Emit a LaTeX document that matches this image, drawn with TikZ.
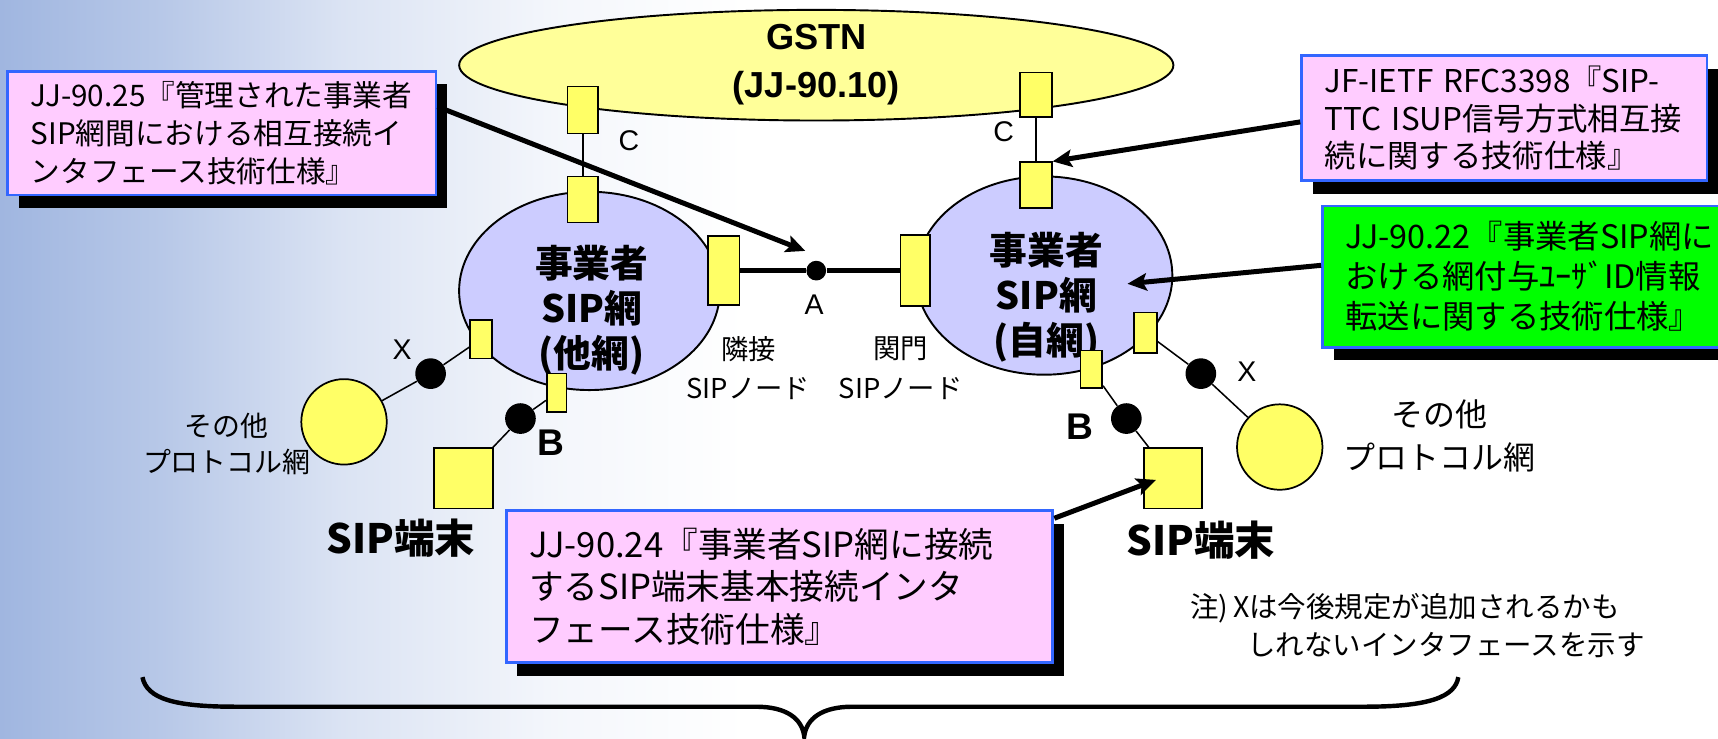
\documentclass[tikz,border=0pt]{standalone}
\usepackage{fontspec}
\setmainfont{Liberation Sans}
\newfontfamily\jp{Noto Sans CJK JP}
\usetikzlibrary{arrows.meta,shadows,shapes.geometric}
\newcommand\setfs[2]{\fontsize{#1}{#2}\selectfont}
\definecolor{cpink}{HTML}{FFCCFF}
\definecolor{cblue}{HTML}{3366FF}
\definecolor{cgreen}{HTML}{00FF00}
\definecolor{cyel}{HTML}{FFFF66}
\definecolor{cgstn}{HTML}{FFFF99}
\definecolor{clav}{HTML}{CCCCFF}
\definecolor{bgblue}{RGB}{160,182,224}
\pgfdeclarehorizontalshading{bgfade}{100bp}{color(0bp)=(bgblue); color(25bp)=(bgblue);
  color(36bp)=(bgblue!75); color(48bp)=(bgblue!38); color(62bp)=(bgblue!12); color(75bp)=(white); color(100bp)=(white)}
\begin{document}
\begin{tikzpicture}[x=0.02cm,y=-0.02cm,
  callout/.style={draw=cblue, line width=1.5pt, fill=cpink, inner xsep=0.42cm, inner ysep=0pt, align=left,
    font=\jp\setfs{15.4}{19.6},
    drop shadow={fill=black, opacity=1, shadow xshift=5.7pt, shadow yshift=-6.8pt}},
  ybox/.style={draw, fill=cyel, inner sep=0pt, line width=0.8pt},
  blackdot/.style={circle, fill=black, inner sep=0pt, minimum size=0.56cm},
  pnet/.style={circle, draw, fill=cyel, line width=0.9pt, inner sep=0pt, minimum size=1.56cm},
  sipnet/.style={ellipse, draw, fill=clav, line width=1pt, inner sep=0pt},
  thinlink/.style={line width=0.8pt},
  trunk/.style={line width=2.6pt},
  callarrow/.style={line width=2.6pt, -{Stealth[length=10pt,width=9pt,inset=2pt]}},
  lbl/.style={font=\setfs{14.8}{18}, inner sep=0pt},
  blbl/.style={font=\bfseries\setfs{19.3}{23}, inner sep=0pt},
  jlbl/.style={font=\jp\setfs{14.2}{20.5}, align=center, inner sep=0pt},
  netlbl/.style={font=\jp\bfseries\setfs{19.6}{23.3}, align=center, inner sep=0pt},
  termlbl/.style={font=\jp\bfseries\setfs{21}{24}, inner sep=0pt},
]
\useasboundingbox (0,0) rectangle (1568,674);
% background
\fill[white] (0,0) rectangle (1568,674);
\shade[shading=bgfade] (0,0) rectangle (680,674);

% GSTN
\node[sipnet, fill=cgstn, minimum width=13.04cm, minimum height=2.02cm] (gstn) at (745,59.5) {};
\node[font=\bfseries\setfs{18.8}{25}, align=center, inner sep=0pt] (gstnT) at (745,59) {GSTN\\(JJ-90.10)};

% carrier SIP networks
\node[sipnet, minimum width=4.76cm, minimum height=3.62cm] (netL) at (538,265.5) {};
\node[sipnet, minimum width=4.68cm, minimum height=3.62cm] (netR) at (953,251.5) {};
\node[netlbl] (netLT) at (540,283) {事業者\\SIP網\\(他網)};
\node[netlbl] (netRT) at (955,271) {事業者\\SIP網\\(自網)};

% interface boxes
\node[ybox, minimum width=0.56cm, minimum height=0.86cm] (gL1) at (532,100.5) {};
\node[ybox, minimum width=0.56cm, minimum height=0.84cm] (gL2) at (532,182) {};
\node[ybox, minimum width=0.58cm, minimum height=0.82cm] (gR1) at (945.5,86.5) {};
\node[ybox, minimum width=0.58cm, minimum height=0.84cm] (gR2) at (945.5,169) {};
\node[ybox, minimum width=0.58cm, minimum height=1.26cm] (adjL) at (660.5,247) {};
\node[ybox, minimum width=0.54cm, minimum height=1.30cm] (gwR) at (835.5,247) {};
\node[ybox, minimum width=0.40cm, minimum height=0.70cm] (xL) at (439,309.5) {};
\node[ybox, minimum width=0.36cm, minimum height=0.70cm] (bL) at (508,358.5) {};
\node[ybox, minimum width=0.42cm, minimum height=0.74cm] (xR) at (1045.5,303.5) {};
\node[ybox, minimum width=0.40cm, minimum height=0.68cm] (bR) at (996,337) {};
\node[ybox, minimum width=1.08cm, minimum height=1.10cm] (termL) at (423,436.5) {};
\node[ybox, minimum width=1.06cm, minimum height=1.10cm] (termR) at (1070.5,436.5) {};

% other protocol networks
\node[pnet] (circL) at (314,385) {};
\node[pnet] (circR) at (1168,408) {};

% dots
\node[blackdot, minimum size=0.36cm] (dotA) at (745,247) {};
\node[blackdot] (dotXL) at (393,341) {};
\node[blackdot] (dotBL) at (475,382) {};
\node[blackdot] (dotXR) at (1096,341) {};
\node[blackdot] (dotBR) at (1028,382) {};

% links
\draw[thinlink] (gL1) -- (gL2);
\draw[thinlink] (gR1) -- (gR2);
\draw[trunk] (adjL) -- (dotA) -- (gwR);
\draw[thinlink] (circL) -- (dotXL) -- (xL);
\draw[thinlink] (termL) -- (dotBL) -- (bL);
\draw[thinlink] (xR) -- (dotXR) -- (circR);
\draw[thinlink] (bR) -- (dotBR) -- (termR);

% labels
\node[lbl] (cLlbl) at (574,128) {C};
\node[lbl] (cRlbl) at (916,120) {C};
\node[lbl] (aLbl) at (743,278) {A};
\node[lbl] (xLlbl) at (367,319) {X};
\node[lbl] (xRlbl) at (1138,339) {X};
\node[blbl] (bLlbl) at (503,404) {B};
\node[blbl] (bRlbl) at (986,389) {B};
\node[jlbl] (adjT) at (683,336) {隣接\\SIPノード};
\node[jlbl] (gwT) at (822,336) {関門\\SIPノード};
\node[jlbl, font=\jp\setfs{14.5}{18.8}] (othL) at (207,405) {その他\\プロトコル網};
\node[jlbl, font=\jp\setfs{16.6}{22.2}] (othR) at (1314,398) {その他\\プロトコル網};
\node[termlbl] (tLlbl) at (366,491) {SIP端末};
\node[termlbl] (tRlbl) at (1096,493) {SIP端末};
\node[font=\jp\setfs{14.8}{20}, align=left, anchor=west, inner sep=0pt] (note) at (1086,571)
  {注)\,Xは今後規定が追加されるかも\\\hspace{1.04cm}しれないインタフェースを示す};

% callouts
\node[callout, text width=6.98cm, minimum height=2.26cm] (boxL) at (202.5,121.5)
  {\mbox{JJ-90.25『管理された事業者}\\\mbox{SIP網間における相互接続イ}\\\mbox{ンタフェース技術仕様』}};
\node[callout, text width=6.56cm, minimum height=2.28cm, font=\jp\setfs{16.3}{19.6}] (boxJF) at (1373,108)
  {\mbox{JF-IETF RFC3398『SIP-}\\\mbox{TTC ISUP信号方式相互接}\\\mbox{続に関する技術仕様』}};
\node[callout, fill=cgreen, text width=7.0cm, minimum height=2.58cm, font=\jp\setfs{16.8}{20.8}] (boxG) at (1403,252.5)
  {\mbox{JJ-90.22『事業者SIP網に}\\\mbox{おける網付与ﾕｰｻﾞID情報}\\\mbox{転送に関する技術仕様』}};
\node[callout, text width=9.14cm, minimum height=2.78cm, font=\jp\setfs{18}{22.2}] (boxJJ) at (711.5,535.5)
  {\mbox{JJ-90.24『事業者SIP網に接続}\\\mbox{するSIP端末基本接続インタ}\\\mbox{フェース技術仕様』}};

% callout arrows
\coordinate (tipA) at (735,229);
\coordinate (tipG) at (1029,259);
\coordinate (tipJJ) at (1055,438);
\draw[callarrow] (boxL.7) -- (tipA);
\draw[callarrow] (boxJF.181) -- (gR2.north east);
\draw[callarrow] (boxG.177) -- (tipG);
\draw[callarrow] (boxJJ.14) -- (tipJJ);

% brace
\draw[line width=2.3pt] (130,618) .. controls (134,638) and (160,645) .. (215,645)
  -- (690,645) .. controls (718,645) and (732,656) .. (734,672)
  .. controls (736,656) and (750,645) .. (778,645)
  -- (1245,645) .. controls (1305,645) and (1328,636) .. (1331,618);
\end{tikzpicture}
\end{document}
